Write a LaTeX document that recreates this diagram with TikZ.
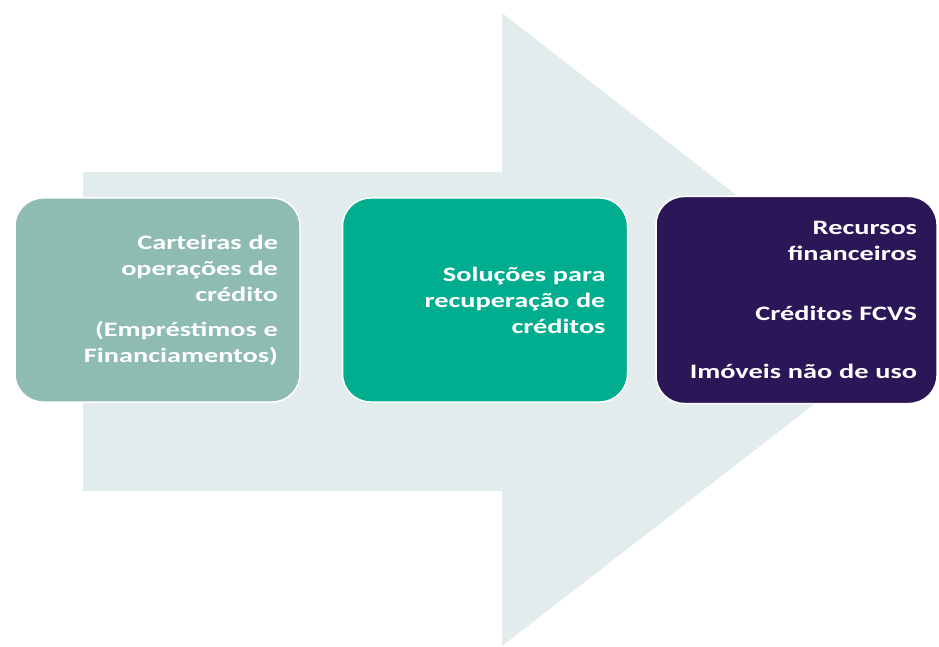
\documentclass[tikz,border=0pt]{standalone}
\usepackage{fontspec}
\usepackage{tikz}
\usetikzlibrary{positioning}
\newfontfamily\boxfont{Carlito}[FakeStretch=1.38]
\definecolor{arrowbg}{RGB}{226,236,236}
\definecolor{sage}{RGB}{143,188,178}
\definecolor{teal}{RGB}{0,174,143}
\definecolor{plum}{RGB}{43,22,88}

\begin{document}
\begin{tikzpicture}[
  x=1pt, y=1pt,
  every node/.style={align=right, font=\boxfont\bfseries\fontsize{20.5}{26}\selectfont},
  stage/.style={rectangle, rounded corners=28pt, draw=white, line width=1.5pt, text=white,
    minimum width=285pt, minimum height=204pt, inner xsep=22pt, text width=241pt}
]
\useasboundingbox (0,0) rectangle (939,646);

% Background arrow
\fill[arrowbg] (83,474) -- (502,474) -- (502,633) -- (910,316) -- (502,0) -- (502,155) -- (83,155) -- cycle;

% Stage boxes
\node[stage, fill=sage] (carteiras) at (157.5,346) {Carteiras de\\operações de\\crédito\\[9pt](Empréstimos e\\Financiamentos)};
\node[stage, fill=teal, right=41pt of carteiras] (solucoes) {Soluções para\\recuperação de\\créditos};
\node[stage, fill=plum, right=27pt of solucoes, minimum width=281pt, minimum height=207pt, inner xsep=19pt] (recursos) {Recursos\\financeiros\\[34pt]Créditos FCVS\\[32pt]Imóveis não de uso};

\end{tikzpicture}
\end{document}
